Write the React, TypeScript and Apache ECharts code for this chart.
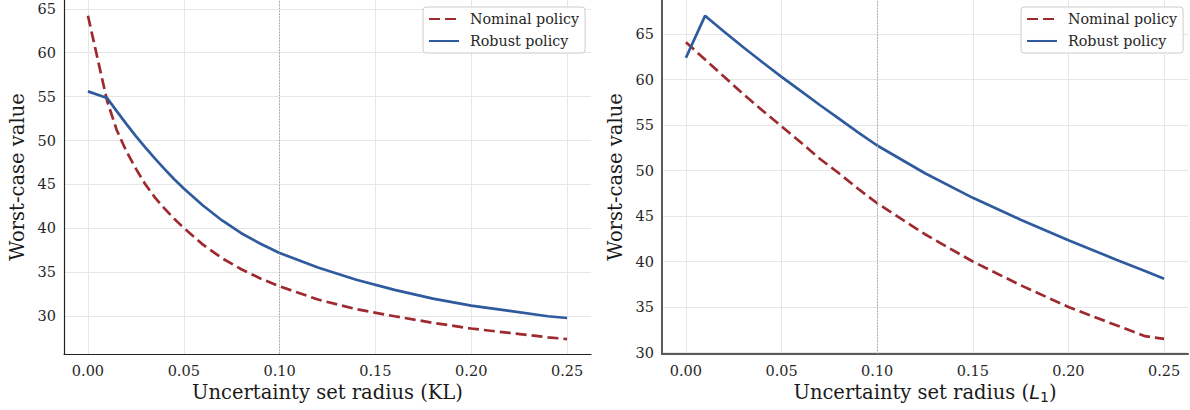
import React, { useEffect, useRef } from "react";
import * as echarts from "echarts";

// ---- data ----
const klX = [0, 0.01, 0.015, 0.02, 0.025, 0.03, 0.035, 0.04, 0.045, 0.05, 0.06, 0.07, 0.08, 0.09, 0.1, 0.12, 0.14, 0.16, 0.18, 0.2, 0.22, 0.24, 0.25];
const klNominal = [64.2, 54.5, 51.2, 48.8, 46.8, 45.0, 43.5, 42.25, 41.1, 40.05, 38.15, 36.6, 35.35, 34.3, 33.4, 31.9, 30.8, 30.0, 29.25, 28.6, 28.1, 27.6, 27.4];
const klRobust = [55.6, 54.85, 53.35, 51.9, 50.5, 49.2, 47.95, 46.75, 45.6, 44.55, 42.6, 40.9, 39.45, 38.25, 37.2, 35.55, 34.15, 33.0, 32.0, 31.2, 30.6, 30.0, 29.8];

const l1X = [0, 0.01, 0.02, 0.03, 0.04, 0.05, 0.06, 0.07, 0.08, 0.09, 0.1, 0.125, 0.15, 0.175, 0.2, 0.225, 0.24, 0.25];
const l1Nominal = [64.1, 62.2, 60.3, 58.4, 56.6, 54.85, 53.1, 51.3, 49.7, 48.0, 46.4, 43.0, 40.0, 37.4, 35.0, 33.0, 31.8, 31.5];
const l1Robust = [62.4, 67.0, 65.25, 63.55, 61.9, 60.3, 58.75, 57.2, 55.7, 54.2, 52.75, 49.7, 47.0, 44.6, 42.35, 40.2, 38.95, 38.1];

const xTickValues = [0, 0.05, 0.1, 0.15, 0.2, 0.25];
const yTickValues = [30, 35, 40, 45, 50, 55, 60, 65];
const referenceRadius = [0.1];
const seriesNames = ["Nominal policy", "Robust policy"];
const yAxisTitle = "Worst-case value";
const xAxisTitles = ["Uncertainty set radius (KL)", "Uncertainty set radius ({i|L}{s|1})"];

// ---- style ----
const FONT = "DejaVu Serif";
const RED = "#9e2a2f";
const BLUE = "#2f5b9e";
const GRID = "#e6e6e6";
const TXT = "#262626";

const pairs = (xs: number[], ys: number[]) => xs.map((x, i) => [x, ys[i]]);
const near = (list: number[], v: number) => list.some((t) => Math.abs(t - v) < 1e-9);

function makeXAxis(gridIndex: number, name: string, axisColor: string, axisWidth: number) {
  return {
    type: "value",
    gridIndex,
    min: -0.0125,
    max: 0.2625,
    splitNumber: 6,
    minInterval: 0.05,
    maxInterval: 0.05,
    name,
    nameLocation: "middle",
    nameGap: 25,
    nameTextStyle: {
      fontFamily: FONT,
      fontSize: 19.5,
      color: "#1a1a1a",
      rich: {
        i: { fontFamily: "DejaVu Sans", fontStyle: "italic", fontSize: 19.5, color: "#1a1a1a" },
        s: { fontFamily: "DejaVu Sans", fontSize: 14, color: "#1a1a1a", padding: [9, 0, 0, 0] },
      },
    },
    axisLine: { show: true, onZero: false, lineStyle: { color: axisColor, width: axisWidth } },
    axisTick: { show: false },
    axisLabel: {
      fontFamily: FONT,
      fontSize: 14.5,
      color: TXT,
      margin: 9,
      showMinLabel: false,
      showMaxLabel: false,
      formatter: (v: number) => (near(xTickValues, v) ? v.toFixed(2) : ""),
    },
    splitLine: { show: true, showMinLine: false, showMaxLine: false, lineStyle: { color: GRID, width: 1 } },
  };
}

function makeYAxis(gridIndex: number, min: number, max: number, axisColor: string, axisWidth: number) {
  return {
    type: "value",
    gridIndex,
    min,
    max,
    splitNumber: 8,
    minInterval: 5,
    maxInterval: 5,
    name: yAxisTitle,
    nameLocation: "middle",
    nameGap: 37,
    nameTextStyle: { fontFamily: FONT, fontSize: 19.5, color: "#1a1a1a" },
    axisLine: { show: true, onZero: false, lineStyle: { color: axisColor, width: axisWidth } },
    axisTick: { show: false },
    axisLabel: {
      fontFamily: FONT,
      fontSize: 14.5,
      color: TXT,
      margin: 8,
      showMinLabel: false,
      showMaxLabel: false,
      formatter: (v: number) => (near(yTickValues, v) ? String(Math.round(v)) : ""),
    },
    splitLine: { show: true, showMinLine: false, showMaxLine: false, lineStyle: { color: GRID, width: 1 } },
  };
}

function makeLegend(left: number) {
  return {
    data: seriesNames,
    orient: "vertical",
    left,
    top: 7,
    itemWidth: 30,
    itemHeight: 14,
    itemGap: 8,
    padding: [5, 6, 5, 5],
    backgroundColor: "rgba(255,255,255,0.85)",
    borderColor: "#cccccc",
    borderWidth: 1,
    borderRadius: 3,
    itemStyle: { opacity: 0 },
    textStyle: { fontFamily: FONT, fontSize: 14.3, color: TXT, padding: [0, 0, 0, 6] },
  };
}

function makeSeries(idx: number, xs: number[], nominal: number[], robust: number[]) {
  return [
    {
      type: "line",
      name: "__ref" + idx,
      xAxisIndex: idx,
      yAxisIndex: idx,
      data: [],
      z: 1,
      silent: true,
      markLine: {
        silent: true,
        symbol: "none",
        label: { show: false },
        lineStyle: { type: [1.5, 1.5], color: "#a6a6a6", width: 1 },
        data: referenceRadius.map((r) => ({ xAxis: r })),
      },
    },
    {
      type: "line",
      name: seriesNames[0],
      xAxisIndex: idx,
      yAxisIndex: idx,
      data: pairs(xs, nominal),
      showSymbol: false,
      symbol: "none",
      z: 3,
      color: RED,
      lineStyle: { color: RED, width: 2.7, type: [11, 5] },
    },
    {
      type: "line",
      name: seriesNames[1],
      xAxisIndex: idx,
      yAxisIndex: idx,
      data: pairs(xs, robust),
      showSymbol: false,
      symbol: "none",
      z: 4,
      color: BLUE,
      lineStyle: { color: BLUE, width: 2.7 },
    },
  ];
}

export default function App() {
  const ref = useRef<HTMLDivElement>(null);
  useEffect(() => {
    if (!ref.current) return;
    const chart = echarts.init(ref.current, undefined, { renderer: "svg" });
    chart.setOption({
      animation: false,
      backgroundColor: "#ffffff",
      grid: [
        { left: 64, top: 0, width: 527, height: 354 },
        { left: 662, top: 0, width: 526, height: 354 },
      ],
      xAxis: [makeXAxis(0, xAxisTitles[0], "#222222", 1.2), makeXAxis(1, xAxisTitles[1], "#5a5a5a", 2)],
      yAxis: [makeYAxis(0, 25.7, 66.0, "#222222", 1.2), makeYAxis(1, 29.84, 68.74, "#5a5a5a", 2)],
      legend: [makeLegend(423), makeLegend(1021)],
      series: [...makeSeries(0, klX, klNominal, klRobust), ...makeSeries(1, l1X, l1Nominal, l1Robust)],
    });
    return () => chart.dispose();
  }, []);
  return (
    <div
      ref={ref}
      style={{ position: "fixed", left: 0, top: 0, width: 1190, height: 410, background: "#fff" }}
    />
  );
}
